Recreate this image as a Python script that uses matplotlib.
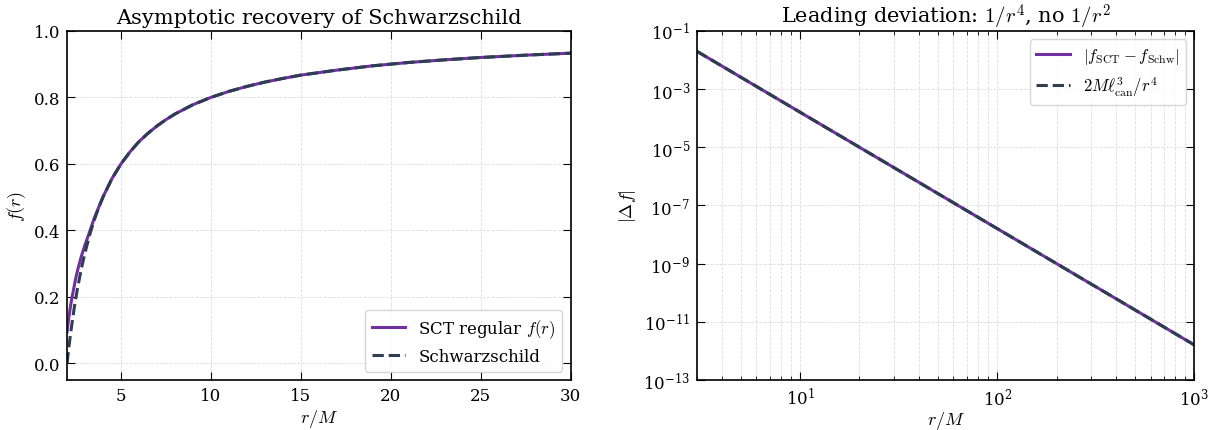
'''
    Asymptotic recovery of Schwarzschild for the SCT regular metric.
'''
import matplotlib
matplotlib.use('Agg')
import matplotlib.pyplot as plt
from matplotlib.ticker import NullLocator

plt.rcParams['font.family'] = 'DejaVu Serif'
plt.rcParams['mathtext.fontset'] = 'cm'

# values
r_left = [2.0, 2.05, 2.1, 2.2, 2.3, 2.4, 2.5, 2.6, 2.8, 3.0, 3.25, 3.5, 3.75,
          4.0, 4.5, 5.0, 5.5, 6.0, 6.5, 7.0, 7.5, 8.0, 9.0, 10.0, 11.0, 12.0,
          13.0, 14.0, 15.0, 17.0, 19.0, 21.0, 23.0, 25.0, 27.5, 30.0]
f_sct = [0.095, 0.117, 0.138, 0.175, 0.205, 0.233, 0.260, 0.283, 0.323,
         0.357, 0.395, 0.435, 0.468, 0.501, 0.556, 0.600, 0.636, 0.667,
         0.692, 0.714, 0.733, 0.750, 0.778, 0.800, 0.818, 0.833, 0.846,
         0.857, 0.867, 0.882, 0.895, 0.905, 0.913, 0.920, 0.927, 0.933]
f_schw = [0.0, 0.024, 0.048, 0.091, 0.130, 0.167, 0.200, 0.231, 0.286,
          0.333, 0.385, 0.429, 0.467, 0.500, 0.556, 0.600, 0.636, 0.667,
          0.692, 0.714, 0.733, 0.750, 0.778, 0.800, 0.818, 0.833, 0.846,
          0.857, 0.867, 0.882, 0.895, 0.905, 0.913, 0.920, 0.927, 0.933]

r_right = [3.0, 10.0, 30.0, 100.0, 300.0, 1000.0]
df_sct = [1.98e-2, 1.6e-4, 1.98e-6, 1.6e-8, 1.98e-10, 1.6e-12]
df_fit = [1.98e-2, 1.6e-4, 1.98e-6, 1.6e-8, 1.98e-10, 1.6e-12]

PURPLE = '#7030a0'
NAVY = '#2c3e50'


def style_axes(ax):
    ax.tick_params(direction='in', which='both', top=True, right=True,
                   labelsize=12, pad=5)
    ax.tick_params(which='major', length=6)
    ax.tick_params(which='minor', length=3)
    for sp in ax.spines.values():
        sp.set_linewidth(1.2)


fig = plt.figure(figsize=(12.28, 4.31), dpi=100)
ax1 = fig.add_axes([0.0546, 0.116, 0.410, 0.81])
ax2 = fig.add_axes([0.5676, 0.116, 0.405, 0.81])

ax1.plot(r_left, f_sct, color=PURPLE, lw=2.2, label=r'SCT regular $f(r)$')
ax1.plot(r_left, f_schw, color=NAVY, lw=2.2, ls='--', label='Schwarzschild')
ax1.set_xlim(2, 30)
ax1.set_ylim(-0.05, 1.0)
ax1.set_xticks([5, 10, 15, 20, 25, 30])
ax1.set_yticks([0.0, 0.2, 0.4, 0.6, 0.8, 1.0])
ax1.grid(True, ls='--', lw=0.6, color='#dcdcdc')
ax1.set_xlabel(r'$r/M$', fontsize=13, labelpad=2)
ax1.set_ylabel(r'$f(r)$', fontsize=13)
ax1.set_title('Asymptotic recovery of Schwarzschild', fontsize=15)
ax1.legend(loc='lower right', fontsize=12)
style_axes(ax1)

ax2.loglog(r_right, df_sct, color=PURPLE, lw=2.2,
           label=r'$|f_{\rm SCT} - f_{\rm Schw}|$')
ax2.loglog(r_right, df_fit, color=NAVY, lw=2.2, ls='--',
           label=r'$2M\ell_{\rm can}^3/r^4$')
ax2.set_xlim(3, 1000)
ax2.set_ylim(1e-13, 1e-1)
ax2.set_yticks([1e-13, 1e-11, 1e-9, 1e-7, 1e-5, 1e-3, 1e-1])
ax2.yaxis.set_minor_locator(NullLocator())
ax2.grid(True, which='both', ls='--', lw=0.6, color='#dcdcdc')
ax2.set_xlabel(r'$r/M$', fontsize=13, labelpad=0)
ax2.set_ylabel(r'$|\Delta f|$', fontsize=13)
ax2.set_title(r'Leading deviation: $1/r^4$, no $1/r^2$', fontsize=15)
ax2.legend(loc='upper right', fontsize=12)
style_axes(ax2)

fig.savefig('out.png', dpi=100)
